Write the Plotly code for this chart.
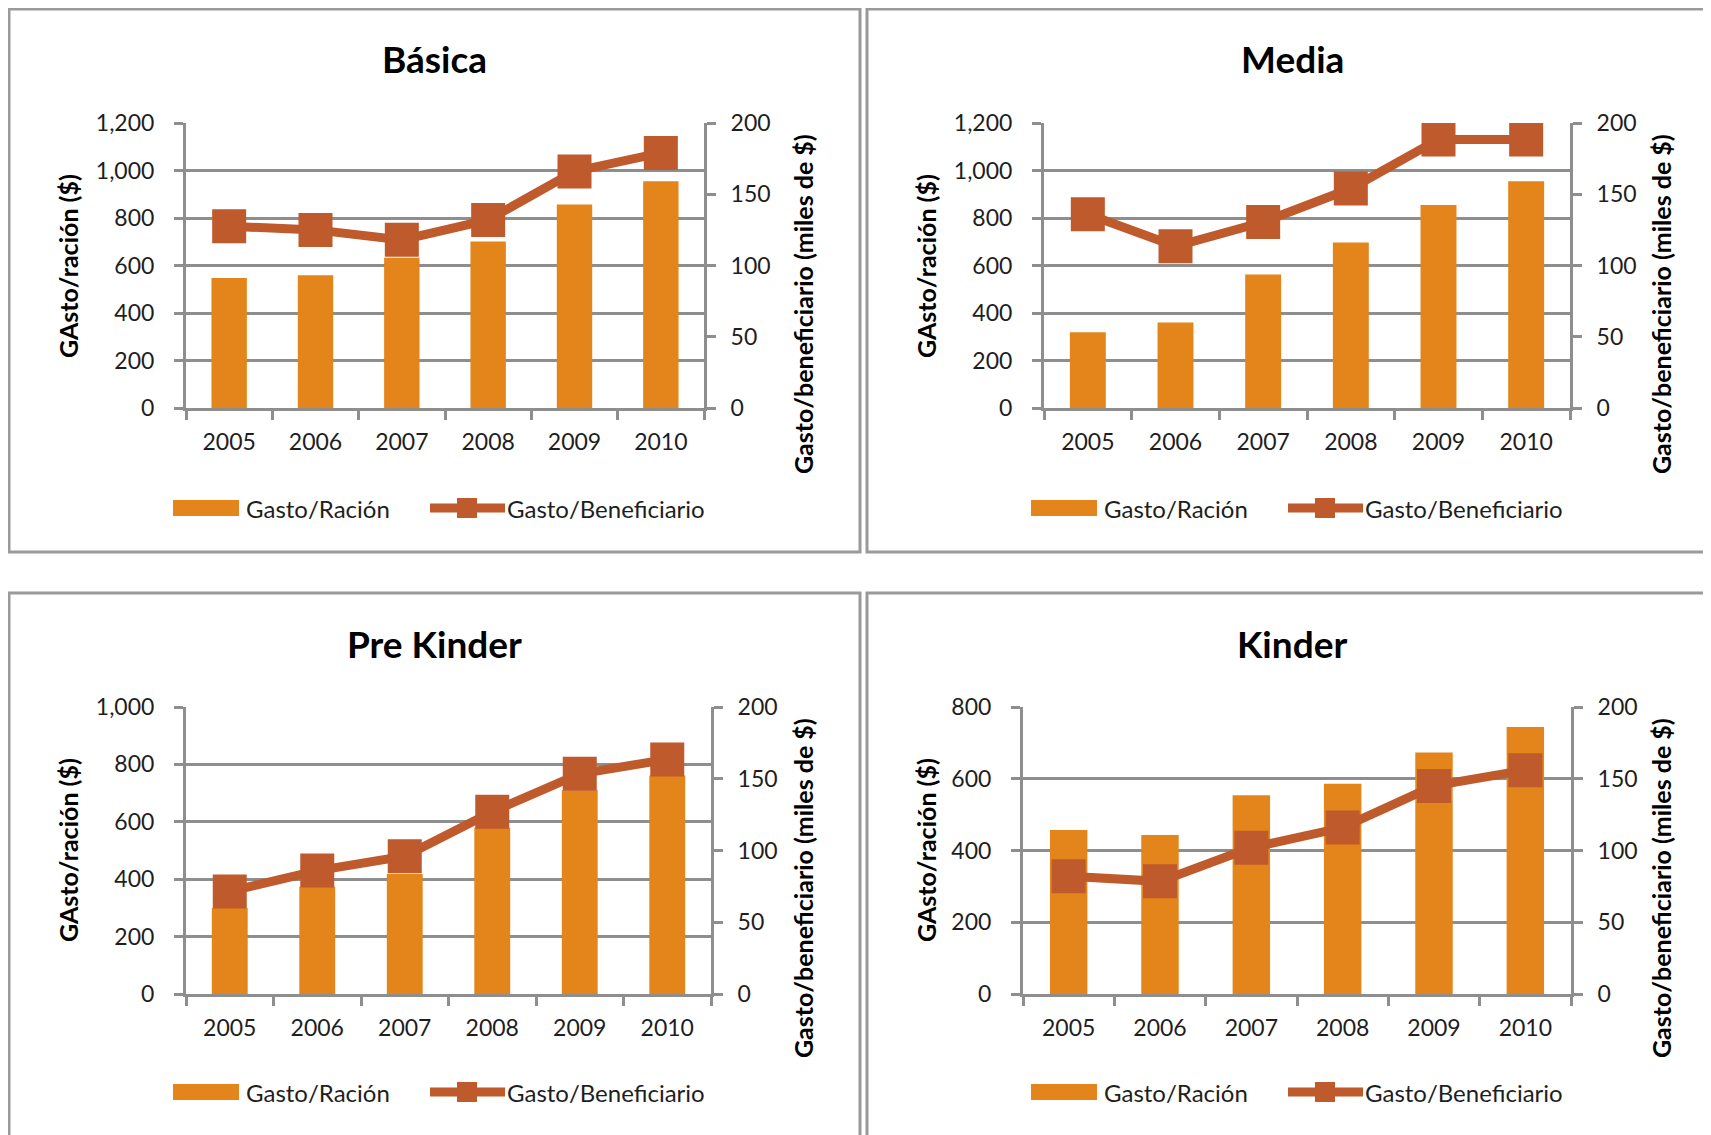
import plotly.graph_objects as go

W, H = 1711, 1135

years = ["2005", "2006", "2007", "2008", "2009", "2010"]

titles = ["Básica", "Media", "Pre Kinder", "Kinder"]

basica_racion = [547, 559, 633, 701, 857, 955]
basica_benef = [127.5, 125, 118, 132, 166, 179]

media_racion = [319, 360, 562, 697, 855, 955]
media_benef = [136, 113.5, 130.5, 154, 188.5, 188.5]

prek_racion = [300, 374, 418, 579, 710, 761]
prek_benef = [71.5, 86, 96, 127, 153.5, 163.5]

kinder_racion = [457, 443, 554, 586, 673, 744]
kinder_benef = [82, 78.5, 102, 116, 145, 156]

left_max = [1200, 1200, 1000, 800]
right_max = [200, 200, 200, 200]

racion = [basica_racion, media_racion, prek_racion, kinder_racion]
benef = [basica_benef, media_benef, prek_benef, kinder_benef]

BAR = "#E3851A"
LINE = "#BE5A2B"
GRID = "#8E8E8E"
TXT = "#1E1E1E"
FONT = "Lato, 'Open Sans', sans-serif"

# the page body adds an 8px margin around the figure
PAGE_PAD = 8

# plot areas in page pixels: (x0, x1, y_top, y_bottom)
areas = [
    (186, 704, 123, 408),
    (1044, 1570, 123, 408),
    (186, 711, 707, 994),
    (1023, 1571, 707, 994),
]
# panel offsets (left column / right column, top row / bottom row)
offsets = [(0, 0), (858, 0), (0, 584), (858, 584)]


def px(x):
    return (x - PAGE_PAD) / W


def py(y):
    return 1 - (y - PAGE_PAD) / H


def label(text, x, y, size, angle=0, anchor="center", color="#000"):
    return dict(text=text, x=px(x), y=py(y), xref="paper", yref="paper",
                xanchor=anchor, yanchor="middle", showarrow=False, textangle=angle,
                font=dict(family=FONT, size=size, color=color))


fig = go.Figure()
layout = {}
shapes = []
annotations = []

for i in range(4):
    n = i + 1
    xa = "x" if n == 1 else f"x{n}"
    ya = f"y{2 * n - 1}" if n > 1 else "y"
    yb = f"y{2 * n}"
    x0, x1, yt, yb_px = areas[i]

    fig.add_trace(go.Bar(
        x=years, y=racion[i], xaxis=xa, yaxis=ya,
        marker=dict(color=BAR, line=dict(width=0)),
        name="Gasto/Ración", showlegend=False,
    ))
    fig.add_trace(go.Scatter(
        x=years, y=benef[i], xaxis=xa, yaxis=yb,
        mode="lines+markers",
        line=dict(color=LINE, width=9),
        marker=dict(symbol="square", size=34, color=LINE),
        name="Gasto/Beneficiario", showlegend=False,
    ))

    xkey = "xaxis" if n == 1 else f"xaxis{n}"
    ykey1 = "yaxis" if n == 1 else f"yaxis{2 * n - 1}"
    ykey2 = f"yaxis{2 * n}"

    layout[xkey] = dict(
        domain=[px(x0), px(x1)], anchor=ya, type="category", automargin=False,
        range=[-0.5, len(years) - 0.5],
        showline=True, linecolor=GRID, linewidth=3,
        ticks="outside", tickson="boundaries", ticklen=9, tickwidth=2.5, tickcolor=GRID,
        showgrid=False, tickfont=dict(family=FONT, size=23, color=TXT),
        ticklabelstandoff=11, fixedrange=True,
    )
    layout[ykey1] = dict(
        domain=[py(yb_px), py(yt)], anchor=xa, range=[0, left_max[i]], dtick=200,
        tickformat=",d", showline=True, linecolor=GRID, linewidth=3, automargin=False,
        ticks="outside", ticklen=9, tickwidth=2.5, tickcolor=GRID,
        showgrid=True, gridcolor=GRID, gridwidth=2.5, zeroline=False,
        tickfont=dict(family=FONT, size=23, color=TXT), ticklabelstandoff=15,
    )
    layout[ykey2] = dict(
        overlaying=ya, anchor=xa, side="right", range=[0, right_max[i]], dtick=50,
        showline=True, linecolor=GRID, linewidth=3, automargin=False,
        ticks="outside", ticklen=9, tickwidth=2.5, tickcolor=GRID,
        showgrid=False, zeroline=False,
        tickfont=dict(family=FONT, size=23, color=TXT), ticklabelstandoff=10,
    )

    dx, dy = offsets[i]
    # panel frame
    shapes.append(dict(type="rect", xref="paper", yref="paper",
                       x0=px(9 + dx), x1=px(860 + dx + (30 if dx else 0)),
                       y0=py(552 + dy + (40 if dy else 0)), y1=py(9 + dy),
                       line=dict(color="#9A9A9A", width=3)))
    # titles
    annotations.append(label(f"<b>{titles[i]}</b>", 434 + dx, 59 + dy, 37))
    annotations.append(label("<b>GAsto/ración ($)</b>", 68 + dx, 266 + dy, 25, angle=-90))
    annotations.append(label("<b>Gasto/beneficiario (miles de $)</b>", 803 + dx, 304 + dy, 25, angle=-90))
    # legend
    ly = 508 + dy
    shapes.append(dict(type="rect", xref="paper", yref="paper",
                       x0=px(173 + dx), x1=px(239 + dx), y0=py(ly + 8), y1=py(ly - 8),
                       fillcolor=BAR, line=dict(width=0)))
    shapes.append(dict(type="line", xref="paper", yref="paper",
                       x0=px(430 + dx), x1=px(505 + dx), y0=py(ly), y1=py(ly),
                       line=dict(color=LINE, width=9)))
    shapes.append(dict(type="rect", xref="paper", yref="paper",
                       x0=px(457 + dx), x1=px(477 + dx), y0=py(ly + 10), y1=py(ly - 10),
                       fillcolor=LINE, line=dict(width=0)))
    annotations.append(label("Gasto/Ración", 244 + dx, ly, 24, anchor="left", color=TXT))
    annotations.append(label("Gasto/Beneficiario", 505 + dx, ly, 24, anchor="left", color=TXT))

fig.update_layout(
    width=W, height=H,
    margin=dict(l=0, r=0, t=0, b=0, pad=0),
    paper_bgcolor="white", plot_bgcolor="white",
    bargap=0.59, showlegend=False,
    shapes=shapes, annotations=annotations,
    **layout,
)

fig.write_html("out.html")
